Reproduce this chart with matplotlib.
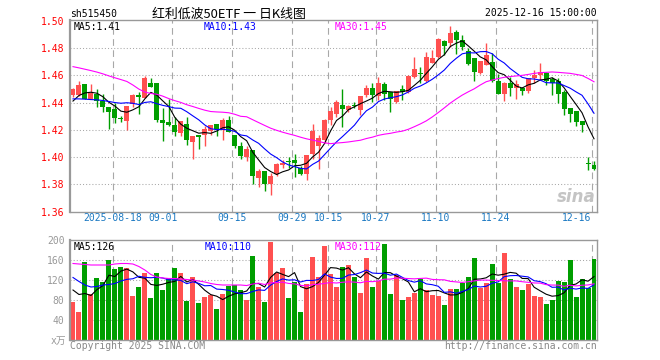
import matplotlib
matplotlib.use("Agg")
import matplotlib.pyplot as plt
import numpy as np

# ---------------- data ----------------
dates = ["2025-08-18", "09-01", "09-15", "09-29", "10-15", "10-27", "11-10", "11-24", "12-16"]
date_idx = [7, 17, 27, 37, 43, 51, 61, 71, 87]

opens = [1.4453, 1.4460, 1.4539, 1.4428, 1.4465, 1.4409, 1.4369, 1.4357, 1.4284, 1.4269,
         1.4389, 1.4460, 1.4438, 1.4548, 1.4548, 1.4276, 1.4261, 1.4234, 1.4178, 1.4244,
         1.4112, 1.4161, 1.4161, 1.4190, 1.4246, 1.4198, 1.4276, 1.4161, 1.4080, 1.4000,
         1.4051, 1.3844, 1.3895, 1.3800, 1.3873, 1.3939, 1.3971, 1.3976, 1.3917, 1.3876,
         1.4020, 1.4085, 1.4129, 1.4276, 1.4317, 1.4383, 1.4345, 1.4382, 1.4346, 1.4456,
         1.4506, 1.4449, 1.4537, 1.4481, 1.4407, 1.4498, 1.4481, 1.4591, 1.4621, 1.4562,
         1.4695, 1.4739, 1.4856, 1.4842, 1.4918, 1.4861, 1.4783, 1.4726, 1.4616, 1.4677,
         1.4702, 1.4560, 1.4464, 1.4547, 1.4506, 1.4510, 1.4488, 1.4579, 1.4604, 1.4616,
         1.4574, 1.4560, 1.4481, 1.4358, 1.4339, 1.4265, 1.3952, 1.3941]
highs = [1.4511, 1.4560, 1.4539, 1.4539, 1.4502, 1.4465, 1.4369, 1.4396, 1.4303, 1.4377,
         1.4465, 1.4480, 1.4593, 1.4585, 1.4548, 1.4360, 1.4426, 1.4298, 1.4267, 1.4298,
         1.4156, 1.4161, 1.4227, 1.4239, 1.4246, 1.4288, 1.4300, 1.4161, 1.4109, 1.4080,
         1.4051, 1.3910, 1.3895, 1.3885, 1.3956, 1.3978, 1.4000, 1.4024, 1.3932, 1.4017,
         1.4240, 1.4166, 1.4280, 1.4366, 1.4420, 1.4498, 1.4385, 1.4405, 1.4449, 1.4530,
         1.4547, 1.4591, 1.4555, 1.4481, 1.4486, 1.4530, 1.4603, 1.4734, 1.4665, 1.4775,
         1.4788, 1.4874, 1.4861, 1.4964, 1.4935, 1.4898, 1.4800, 1.4726, 1.4707, 1.4842,
         1.4768, 1.4609, 1.4555, 1.4591, 1.4567, 1.4518, 1.4579, 1.4641, 1.4694, 1.4628,
         1.4591, 1.4579, 1.4493, 1.4358, 1.4339, 1.4265, 1.4003, 1.3973]
lows = [1.4445, 1.4450, 1.4426, 1.4426, 1.4372, 1.4335, 1.4210, 1.4249, 1.4259, 1.4202,
        1.4372, 1.4318, 1.4433, 1.4519, 1.4257, 1.4121, 1.4225, 1.4153, 1.4156, 1.4090,
        1.3989, 1.4063, 1.4080, 1.4166, 1.4154, 1.4129, 1.4183, 1.4066, 1.3983, 1.3970,
        1.3800, 1.3781, 1.3751, 1.3719, 1.3863, 1.3917, 1.3922, 1.3856, 1.3868, 1.3834,
        1.3985, 1.3915, 1.4105, 1.4239, 1.4297, 1.4223, 1.4335, 1.4360, 1.4309, 1.4444,
        1.4407, 1.4420, 1.4420, 1.4334, 1.4400, 1.4420, 1.4474, 1.4579, 1.4542, 1.4555,
        1.4690, 1.4731, 1.4751, 1.4812, 1.4758, 1.4788, 1.4677, 1.4560, 1.4610, 1.4677,
        1.4555, 1.4464, 1.4415, 1.4449, 1.4427, 1.4456, 1.4474, 1.4542, 1.4567, 1.4530,
        1.4456, 1.4395, 1.4309, 1.4260, 1.4228, 1.4187, 1.3904, 1.3904]
closes = [1.4502, 1.4531, 1.4428, 1.4470, 1.4416, 1.4372, 1.4328, 1.4291, 1.4282, 1.4377,
          1.4460, 1.4440, 1.4583, 1.4519, 1.4274, 1.4249, 1.4237, 1.4183, 1.4267, 1.4126,
          1.4156, 1.4146, 1.4207, 1.4239, 1.4210, 1.4276, 1.4183, 1.4080, 1.4005, 1.4058,
          1.3859, 1.3895, 1.3800, 1.3859, 1.3946, 1.3959, 1.3963, 1.3954, 1.3878, 1.4017,
          1.4190, 1.4141, 1.4271, 1.4337, 1.4407, 1.4351, 1.4378, 1.4378, 1.4449, 1.4506,
          1.4456, 1.4547, 1.4464, 1.4427, 1.4486, 1.4481, 1.4596, 1.4648, 1.4613, 1.4739,
          1.4725, 1.4866, 1.4820, 1.4915, 1.4861, 1.4812, 1.4682, 1.4623, 1.4707, 1.4751,
          1.4560, 1.4464, 1.4547, 1.4506, 1.4535, 1.4488, 1.4579, 1.4604, 1.4628, 1.4562,
          1.4542, 1.4464, 1.4353, 1.4317, 1.4260, 1.4236, 1.3948, 1.3912]
volumes = [76, 56, 156, 92, 124, 116, 160, 143, 146, 144,
           88, 106, 134, 84, 134, 100, 124, 144, 134, 78,
           126, 74, 86, 90, 62, 92, 108, 110, 100, 80,
           168, 106, 76, 196, 134, 144, 84, 116, 56, 112,
           166, 126, 188, 132, 107, 146, 150, 126, 94, 164,
           106, 119, 192, 92, 130, 80, 86, 94, 123, 100,
           90, 88, 70, 102, 102, 114, 126, 164, 104, 114,
           152, 114, 174, 122, 106, 100, 112, 88, 86, 72,
           80, 118, 116, 160, 86, 122, 104, 162]

# moving-average values at the left edge (they depend on days before the window)
ma5_head = [1.4412, 1.4453, 1.4472, 1.4477]
ma10_head = [1.4428, 1.4428, 1.4426, 1.4423, 1.4421, 1.4416, 1.4409, 1.4401, 1.4396]
ma30_head = [1.4665, 1.4656, 1.4646, 1.4636, 1.4625, 1.4612, 1.4597, 1.4583, 1.4570, 1.4556,
             1.4530, 1.4500, 1.4478, 1.4468, 1.4462, 1.4448, 1.4430, 1.4415, 1.4402, 1.4385,
             1.4372, 1.4358, 1.4345, 1.4335, 1.4332, 1.4330, 1.4326, 1.4315, 1.4300]
vma5_head = [100, 91, 93, 89]
vma10_head = [125, 117, 110, 106, 107, 110, 111, 113, 118]
vma30_head = [153, 152, 151, 150, 150, 150, 150, 152, 153, 153, 152, 147, 140, 131, 126,
              124, 123, 123, 122, 121, 120, 118, 116, 113, 111, 110, 110, 110, 110]

price_ticks = [1.36, 1.38, 1.40, 1.42, 1.44, 1.46, 1.48, 1.50]
vol_ticks = [40, 80, 120, 160, 200]

# ---------------- helpers ----------------
def moving_avg(vals, n, head):
    v = np.asarray(vals, float)
    out = np.empty(len(v))
    out[:n - 1] = head
    c = np.convolve(v, np.ones(n) / n, mode="valid")
    out[n - 1:] = c
    return out

W, H = 660, 360
MONO = "DejaVu Sans Mono"
UP = "#ff5050"
DOWN = "#009e00"
GRID = "#a8a8a8"

fig = plt.figure(figsize=(6.6, 3.6), dpi=100)
fig.patch.set_facecolor("white")

L, R = 70, 597
ax = fig.add_axes([L / W, 1 - 211.5 / H, (R - L) / W, 191.5 / H])
axv = fig.add_axes([L / W, 1 - 340 / H, (R - L) / W, 100 / H])

n = len(closes)
x = np.arange(n)
o = np.array(opens); c = np.array(closes); h = np.array(highs); lo = np.array(lows)
up = c >= o
cols = np.where(up, UP, DOWN)

for a in (ax, axv):
    a.set_xlim(-0.5, n - 0.5)
    for s in a.spines.values():
        s.set_color("#999999")
        s.set_linewidth(1.0)
    a.spines["left"].set_linewidth(1.6)
    a.tick_params(length=0)
    for i in date_idx:
        a.axvline(i - 0.4, color=GRID, lw=0.8, ls=(0, (6, 4)), zorder=0)

# price panel
ax.set_ylim(1.36, 1.5008)
for t in price_ticks[1:-1]:
    ax.axhline(t, color=GRID, lw=0.75, ls=(0, (1, 2)), zorder=0)
ax.vlines(x, lo, h, colors=cols, lw=1.0, zorder=2)
body = np.maximum(np.abs(c - o), 0.0008)
ax.bar(x, body, bottom=np.minimum(o, c), width=0.83, color=cols, lw=0, zorder=3)

ma5 = moving_avg(closes, 5, ma5_head)
ma10 = moving_avg(closes, 10, ma10_head)
ma30 = moving_avg(closes, 30, ma30_head)
ax.plot(x, ma5, color="black", lw=0.8, zorder=4)
ax.plot(x, ma10, color="#0000ff", lw=0.8, zorder=4)
ax.plot(x, ma30, color="#ff00ff", lw=0.8, zorder=4)

ax.set_yticks(price_ticks)
ax.set_yticklabels([f"{t:.2f}" for t in price_ticks], color="#ff0000", family=MONO, fontsize=7)
ax.tick_params(axis="y", pad=4)
ax.set_xticks([])

# date labels (pixel offsets of each label relative to its grid line)
label_shift = [0, -9.5, 0, 0, 0, 0, 0, 0, 0]
for i, d, sh in zip(date_idx, dates, label_shift):
    xpix = L + (i - 0.4 + 0.5) * (R - L) / n + sh
    ha = "right" if i == date_idx[-1] else "center"
    fig.text(xpix / W, 1 - 218 / H, d, ha=ha, va="center", color="#1a78c2",
             family=MONO, fontsize=7)

# MA labels price
ax.text(4 / (R - L), 1 - 7 / 191.5, "MA5:%.2f" % ma5[-1],
        transform=ax.transAxes, color="black", family=MONO, fontsize=7, va="center")
ax.text((204 - L) / (R - L), 1 - 7 / 191.5, "MA10:%.2f" % ma10[-1], transform=ax.transAxes,
        color="#0000ff", family=MONO, fontsize=7, va="center")
ax.text((335 - L) / (R - L), 1 - 7 / 191.5, "MA30:1.45", transform=ax.transAxes,
        color="#ff00ff", family=MONO, fontsize=7, va="center")

# sina watermark
ax.text(0.997, 0.03, "sina", transform=ax.transAxes, ha="right", va="bottom",
        fontsize=12, fontweight="bold", style="italic", color="#c4c4c4", zorder=1)

# volume panel
axv.set_ylim(0, 200)
for t in vol_ticks[:-1]:
    axv.axhline(t, color=GRID, lw=0.75, ls=(0, (1, 2)), zorder=0)
axv.bar(x, volumes, width=0.83, color=cols, lw=0, zorder=2)
vma5 = moving_avg(volumes, 5, vma5_head)
vma10 = moving_avg(volumes, 10, vma10_head)
vma30 = moving_avg(volumes, 30, vma30_head)
axv.plot(x, vma5, color="black", lw=0.8, zorder=4)
axv.plot(x, vma10, color="#0000ff", lw=0.8, zorder=4)
axv.plot(x, vma30, color="#ff00ff", lw=0.8, zorder=4)
axv.set_yticks(vol_ticks)
axv.set_yticklabels([str(t) for t in vol_ticks], color="#999999", family=MONO, fontsize=7)
axv.tick_params(axis="y", pad=4)
axv.set_xticks([])
fig.text(66 / W, 1 - 341 / H, "x万", ha="right", va="center", color="#999999",
         family=["DejaVu Sans Mono", "Noto Sans CJK SC"], fontsize=7)

axv.text(4 / (R - L), 1 - 7 / 100, "MA5:%d" % int(vma5[-1]), transform=axv.transAxes,
         color="black", family=MONO, fontsize=7, va="center")
axv.text((205 - L) / (R - L), 1 - 7 / 100, "MA10:%d" % int(vma10[-1]), transform=axv.transAxes,
         color="#0000ff", family=MONO, fontsize=7, va="center")
axv.text((335 - L) / (R - L), 1 - 7 / 100, "MA30:%d" % int(vma30[-1]), transform=axv.transAxes,
         color="#ff00ff", family=MONO, fontsize=7, va="center")

# header texts
fig.text(70 / W, 1 - 14 / H, "sh515450", ha="left", va="center", family=MONO, fontsize=7, color="black")
fig.text(229 / W, 1 - 14 / H, "红利低波50ETF 一 日K线图", ha="center", va="center",
         family=["Noto Sans CJK SC", "DejaVu Sans"], fontsize=9.3, color="black")
fig.text(597 / W, 1 - 13 / H, "2025-12-16 15:00:00", ha="right", va="center", family=MONO,
         fontsize=7, color="black")

# footer
fig.text(70 / W, 1 - 346 / H, "Copyright 2025 SINA.COM", ha="left", va="center", family=MONO,
         fontsize=7, color="#888888")
fig.text(597 / W, 1 - 346 / H, "http://finance.sina.com.cn", ha="right", va="center", family=MONO,
         fontsize=7, color="#888888")

fig.savefig("out.png", dpi=100, facecolor="white")
